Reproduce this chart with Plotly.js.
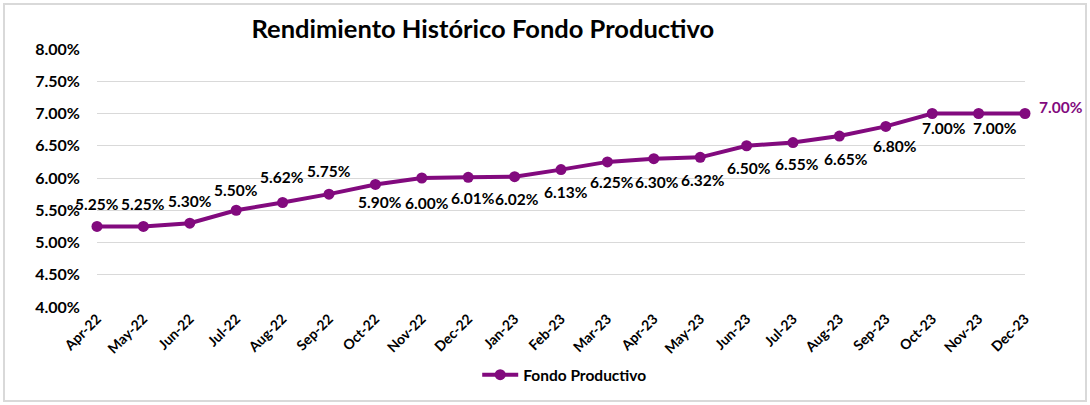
<!DOCTYPE html>
<html>
<head>
<meta charset="utf-8">
<script src="https://cdn.plot.ly/plotly-3.0.1.min.js"></script>
<style>
html,body{margin:0;padding:0;background:#fff;}
#chart{width:1090px;height:405px;}
</style>
</head>
<body>
<div id="chart"></div>
<script>
const months = ["Apr-22","May-22","Jun-22","Jul-22","Aug-22","Sep-22","Oct-22","Nov-22","Dec-22","Jan-23","Feb-23","Mar-23","Apr-23","May-23","Jun-23","Jul-23","Aug-23","Sep-23","Oct-23","Nov-23","Dec-23"];
const rendimiento = [0.0525,0.0525,0.0530,0.0550,0.0562,0.0575,0.0590,0.0600,0.0601,0.0602,0.0613,0.0625,0.0630,0.0632,0.0650,0.0655,0.0665,0.0680,0.0700,0.0700,0.0700];
const seriesName = "Fondo Productivo";
const chartTitle = "Rendimiento Histórico Fondo Productivo";
const yTicks = [0.04,0.045,0.05,0.055,0.06,0.065,0.07,0.075,0.08];

// label placement (pixels, style only)
const labelDx = [0,0,0,0,-1,0,5,5,5,2,5,5,3,3,2,4,7,9,12,16,36];
const labelDy = [22,22,22,20,26,23,-18,-25,-21,-22,-22,-20,-23,-23,-22,-21,-23,-20,-14,-14,7];

const purple = "#820a7e";
const FONT = "Lato, 'Open Sans', sans-serif";

const trace = {
  type: "scatter",
  mode: "lines+markers",
  name: seriesName,
  x: months,
  y: rendimiento,
  line: {color: purple, width: 4},
  marker: {color: purple, size: 11},
  cliponaxis: false,
  hoverinfo: "x+y"
};

const annotations = rendimiento.map((v, i) => ({
  x: months[i], y: v, xref: "x", yref: "y",
  text: (v * 100).toFixed(2) + "%",
  showarrow: false,
  xanchor: "center", yanchor: "middle",
  xshift: labelDx[i], yshift: labelDy[i],
  font: {family: FONT, size: 15.5, weight: "bold", color: i === rendimiento.length - 1 ? purple : "#000000"}
}));

const layout = {
  width: 1090, height: 405,
  margin: {l: 97, r: 65, t: 49, b: 98},
  paper_bgcolor: "#ffffff",
  plot_bgcolor: "#ffffff",
  font: {family: FONT, color: "#000000"},
  title: {
    text: "<b>" + chartTitle + "</b>",
    font: {family: FONT, size: 25.5, color: "#000000"},
    xref: "container", x: 0.443, xanchor: "center",
    yref: "container", y: 0.928, yanchor: "middle"
  },
  xaxis: {
    type: "category",
    range: [0, months.length - 1],
    tickangle: -45,
    tickfont: {family: FONT, size: 14, color: "#000000", weight: "bold"},
    showgrid: false,
    showline: false,
    zeroline: false,
    ticks: ""
  },
  yaxis: {
    range: [0.04, 0.08],
    tickvals: yTicks,
    tickformat: ".2%",
    tickfont: {family: FONT, size: 16, color: "#000000", weight: "bold"},
    showgrid: true,
    gridcolor: "#d9d9d9",
    gridwidth: 1,
    zeroline: false,
    showline: false,
    ticks: "",
    ticklabelstandoff: 16
  },
  showlegend: true,
  legend: {
    orientation: "h",
    x: 0.504, xanchor: "center",
    y: -0.264, yanchor: "middle",
    font: {family: FONT, size: 15.5, color: "#000000", weight: "bold"},
    itemwidth: 36
  },
  annotations: annotations,
  shapes: [{
    type: "rect", xref: "paper", yref: "paper",
    x0: -97/928 + 4/928, x1: 1 + 65/928 - 4/928,
    y0: -98/258 + 4/258, y1: 1 + 49/258 - 4/258,
    line: {color: "#d9d9d9", width: 2},
    layer: "below"
  }]
};

Plotly.newPlot("chart", [trace], layout, {displayModeBar: false, staticPlot: true});
</script>
</body>
</html>
